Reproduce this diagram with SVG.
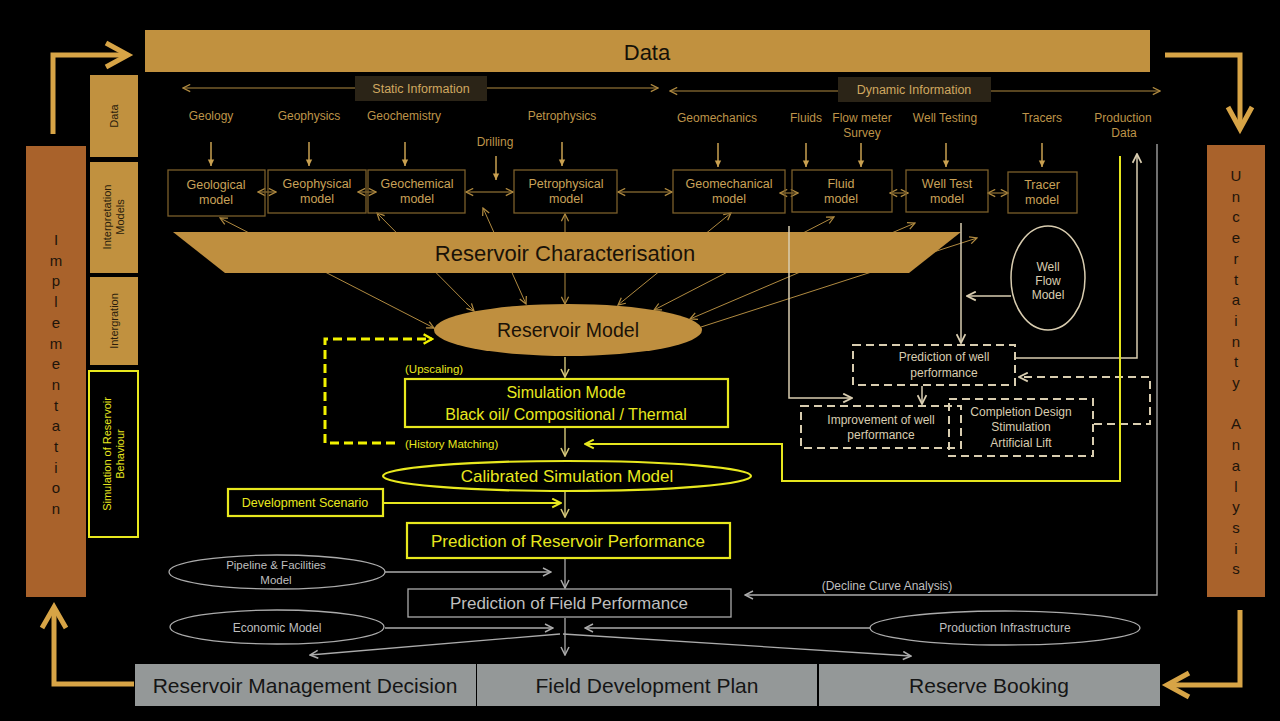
<svg xmlns="http://www.w3.org/2000/svg" width="1280" height="721" viewBox="0 0 1280 721">
<defs>
<style>
text{font-family:"Liberation Sans",Arial,sans-serif}
.lbl{font-size:12px;fill:#BE9449;text-anchor:middle}
.bt{font-size:12.5px;fill:#C9A258;text-anchor:middle}
.box{fill:none;stroke:#7A5E2A;stroke-width:1.3}
.gl{stroke:#B08A40;stroke-width:1;fill:none}
.gd{stroke:#C9A050;stroke-width:1.5;fill:none}
.wl{stroke:#D9CDB0;stroke-width:1.5;fill:none}
.wd{stroke:#D9CDB0;stroke-width:2;fill:none;stroke-dasharray:8,5}
.gy{stroke:#ABABAB;stroke-width:1.3;fill:none}
.yl{stroke:#E6E61E;stroke-width:2;fill:none}
.yb{fill:#000;stroke:#E8E81E;stroke-width:2.2}
.yt{fill:#E8E81E;text-anchor:middle}
.big{stroke:#D7A446;stroke-width:5;fill:none;stroke-linejoin:miter}
.wt{font-size:12px;fill:#D9CDB0;text-anchor:middle}
.gt{fill:#BFBFBF;text-anchor:middle}
.bar{fill:#A9622B}
.lt{font-size:15px;fill:#1E140A;text-anchor:middle}
.col{fill:#C1913F}
.ct{font-size:11px;fill:#2A1D0C;text-anchor:middle}
.bot{fill:#949898}
.bott{font-size:21px;fill:#151515;text-anchor:middle}
</style>
<marker id="ag" viewBox="0 0 10 10" refX="9" refY="5" markerWidth="9" markerHeight="9" markerUnits="userSpaceOnUse" orient="auto-start-reverse"><path d="M1,1 L9,5 L1,9" fill="none" stroke="#B08A40" stroke-width="1.4"/></marker>
<marker id="af" viewBox="0 0 10 10" refX="9" refY="5" markerWidth="8" markerHeight="8" markerUnits="userSpaceOnUse" orient="auto-start-reverse"><path d="M1,1 L9,5 L1,9 Z" fill="#C9A050"/></marker>
<marker id="aw" viewBox="0 0 10 10" refX="9" refY="5" markerWidth="11" markerHeight="11" markerUnits="userSpaceOnUse" orient="auto-start-reverse"><path d="M1,1 L9,5 L1,9" fill="none" stroke="#D9CDB0" stroke-width="1.6"/></marker>
<marker id="ay" viewBox="0 0 10 10" refX="9" refY="5" markerWidth="11" markerHeight="11" markerUnits="userSpaceOnUse" orient="auto-start-reverse"><path d="M1,1 L9,5 L1,9" fill="none" stroke="#E6E61E" stroke-width="1.8"/></marker>
<marker id="ayb" viewBox="0 0 10 10" refX="8" refY="5" markerWidth="12" markerHeight="12" markerUnits="userSpaceOnUse" orient="auto-start-reverse"><path d="M1,1 L8,5 L1,9" fill="none" stroke="#F2F200" stroke-width="2"/></marker>
<marker id="ays" viewBox="0 0 10 10" refX="9" refY="5" markerWidth="10" markerHeight="10" markerUnits="userSpaceOnUse" orient="auto-start-reverse"><path d="M1,1 L9,5 L1,9" fill="none" stroke="#D6C87A" stroke-width="1.6"/></marker>
<marker id="agy" viewBox="0 0 10 10" refX="9" refY="5" markerWidth="10" markerHeight="10" markerUnits="userSpaceOnUse" orient="auto-start-reverse"><path d="M1,1 L9,5 L1,9" fill="none" stroke="#ABABAB" stroke-width="1.5"/></marker>
</defs>
<rect width="1280" height="721" fill="#000"/>

<!-- connectors behind the trapezoid -->
<g id="connectors">
<g class="gl">
<line x1="434" y1="328" x2="220" y2="218" marker-start="url(#ag)" marker-end="url(#ag)"/>
<line x1="474" y1="311" x2="377" y2="213" marker-start="url(#ag)" marker-end="url(#ag)"/>
<line x1="526" y1="304" x2="483" y2="208" marker-start="url(#ag)" marker-end="url(#ag)"/>
<line x1="565" y1="304" x2="565" y2="214" marker-start="url(#ag)" marker-end="url(#ag)"/>
<line x1="618" y1="305" x2="731" y2="213" marker-start="url(#ag)" marker-end="url(#ag)"/>
<line x1="654" y1="310" x2="834" y2="217" marker-start="url(#ag)" marker-end="url(#ag)"/>
<line x1="690" y1="319" x2="915" y2="223" marker-start="url(#ag)" marker-end="url(#ag)"/>
<line x1="701" y1="327" x2="977" y2="238" marker-end="url(#ag)"/>
<line x1="183" y1="88" x2="658" y2="88" marker-start="url(#ag)" marker-end="url(#ag)"/>
<line x1="670" y1="91" x2="1160" y2="91" marker-start="url(#ag)" marker-end="url(#ag)"/>
<line x1="466" y1="192" x2="513" y2="192" marker-start="url(#ag)" marker-end="url(#ag)"/>
<line x1="618" y1="192" x2="672" y2="192" marker-start="url(#ag)" marker-end="url(#ag)"/>
<line x1="258" y1="192" x2="276" y2="192" marker-start="url(#ag)" marker-end="url(#ag)"/>
<line x1="358" y1="192" x2="376" y2="192" marker-start="url(#ag)" marker-end="url(#ag)"/>
<line x1="780" y1="193" x2="798" y2="193" marker-start="url(#ag)" marker-end="url(#ag)"/>
<line x1="890" y1="193" x2="908" y2="193" marker-start="url(#ag)" marker-end="url(#ag)"/>
<line x1="988" y1="193" x2="1008" y2="193" marker-start="url(#ag)" marker-end="url(#ag)"/>
</g>
<g class="gd">
<line x1="211" y1="142" x2="211" y2="166" marker-end="url(#af)"/>
<line x1="309" y1="142" x2="309" y2="166" marker-end="url(#af)"/>
<line x1="405" y1="142" x2="405" y2="166" marker-end="url(#af)"/>
<line x1="562" y1="142" x2="562" y2="166" marker-end="url(#af)"/>
<line x1="496" y1="156" x2="496" y2="180" marker-end="url(#af)"/>
<line x1="718" y1="143" x2="718" y2="167" marker-end="url(#af)"/>
<line x1="806" y1="143" x2="806" y2="167" marker-end="url(#af)"/>
<line x1="861" y1="143" x2="861" y2="167" marker-end="url(#af)"/>
<line x1="946" y1="143" x2="946" y2="167" marker-end="url(#af)"/>
<line x1="1042" y1="143" x2="1042" y2="167" marker-end="url(#af)"/>
</g>
</g>

<!-- frame bars -->
<g id="data-bar"><rect x="145" y="30" width="1005" height="42" class="col"/><text x="647" y="60" font-size="22" fill="#141008" text-anchor="middle">Data</text></g>
<g id="static-info"><rect x="355" y="76" width="132" height="25" fill="#2B2417"/><text x="421" y="93" font-size="12.5" fill="#D0A860" text-anchor="middle">Static Information</text></g>
<g id="dynamic-info"><rect x="838" y="77" width="153" height="25" fill="#2B2417"/><text x="914" y="94" font-size="12.5" fill="#D0A860" text-anchor="middle">Dynamic Information</text></g>

<g id="implementation"><rect x="26" y="146" width="60" height="451" class="bar"/>
<text class="lt"><tspan x="56" y="245">I</tspan><tspan x="56" y="265.7">m</tspan><tspan x="56" y="286.4">p</tspan><tspan x="56" y="307.1">l</tspan><tspan x="56" y="327.8">e</tspan><tspan x="56" y="348.5">m</tspan><tspan x="56" y="369.2">e</tspan><tspan x="56" y="389.9">n</tspan><tspan x="56" y="410.6">t</tspan><tspan x="56" y="431.3">a</tspan><tspan x="56" y="452">t</tspan><tspan x="56" y="472.7">i</tspan><tspan x="56" y="493.4">o</tspan><tspan x="56" y="514.1">n</tspan></text></g>
<g id="uncertainty"><rect x="1207" y="145" width="58" height="452" class="bar"/>
<text class="lt"><tspan x="1236" y="181">U</tspan><tspan x="1236" y="201.7">n</tspan><tspan x="1236" y="222.4">c</tspan><tspan x="1236" y="243.1">e</tspan><tspan x="1236" y="263.8">r</tspan><tspan x="1236" y="284.5">t</tspan><tspan x="1236" y="305.2">a</tspan><tspan x="1236" y="325.9">i</tspan><tspan x="1236" y="346.6">n</tspan><tspan x="1236" y="367.3">t</tspan><tspan x="1236" y="388">y</tspan><tspan x="1236" y="429.4">A</tspan><tspan x="1236" y="450.1">n</tspan><tspan x="1236" y="470.8">a</tspan><tspan x="1236" y="491.5">l</tspan><tspan x="1236" y="512.2">y</tspan><tspan x="1236" y="532.9">s</tspan><tspan x="1236" y="553.6">i</tspan><tspan x="1236" y="574.3">s</tspan></text></g>

<g id="frame-arrows" class="big">
<path d="M53,134 V55 H126"/><path d="M106,43 L128,55 L106,67"/>
<path d="M1165,55 H1240 V126"/><path d="M1228,107 L1240,129 L1252,107"/>
<path d="M1240,610 V685 H1170"/><path d="M1189,673 L1167,685 L1189,697"/>
<path d="M134,684 H54 V612"/><path d="M42,628 L54,607 L66,628"/>
</g>

<!-- left column -->
<g id="col-data"><rect x="90" y="75" width="48" height="82" class="col"/><text class="ct" transform="translate(118,116) rotate(-90)">Data</text></g>
<g id="col-interp"><rect x="90" y="162" width="48" height="111" class="col"/><text class="ct" transform="translate(114,217) rotate(-90)"><tspan x="0" y="-3">Interpretation</tspan><tspan x="0" y="10">Models</tspan></text></g>
<g id="col-integ"><rect x="90" y="277" width="48" height="88" class="col"/><text class="ct" transform="translate(118,321) rotate(-90)">Intergration</text></g>
<g id="col-sim"><rect x="89" y="371" width="49" height="166" fill="#000" stroke="#E8E81E" stroke-width="2"/><text font-size="11" fill="#E8E81E" text-anchor="middle" transform="translate(114,454) rotate(-90)"><tspan x="0" y="-3">Simulation of Reservoir</tspan><tspan x="0" y="10">Behaviour</tspan></text></g>

<!-- source labels -->
<g id="labels">
<text class="lbl" x="211" y="120">Geology</text>
<text class="lbl" x="309" y="120">Geophysics</text>
<text class="lbl" x="404" y="120">Geochemistry</text>
<text class="lbl" x="562" y="120">Petrophysics</text>
<text class="lbl" x="495" y="146">Drilling</text>
<text class="lbl" x="717" y="122">Geomechanics</text>
<text class="lbl" x="806" y="122">Fluids</text>
<text class="lbl" x="862" y="122">Flow meter</text>
<text class="lbl" x="862" y="137">Survey</text>
<text class="lbl" x="945" y="122">Well Testing</text>
<text class="lbl" x="1042" y="122">Tracers</text>
<text class="lbl" x="1123" y="122">Production</text>
<text class="lbl" x="1124" y="137">Data</text>
</g>

<!-- interpretation boxes -->
<g id="geological"><rect x="168" y="170" width="97" height="46" class="box"/><text class="bt" x="216" y="189">Geological</text><text class="bt" x="216" y="204">model</text></g>
<g id="geophysical"><rect x="268" y="170" width="98" height="43" class="box"/><text class="bt" x="317" y="188">Geophysical</text><text class="bt" x="317" y="203">model</text></g>
<g id="geochemical"><rect x="368" y="170" width="97" height="43" class="box"/><text class="bt" x="417" y="188">Geochemical</text><text class="bt" x="417" y="203">model</text></g>
<g id="petrophysical"><rect x="514" y="170" width="103" height="43" class="box"/><text class="bt" x="566" y="188">Petrophysical</text><text class="bt" x="566" y="203">model</text></g>
<g id="geomechanical"><rect x="673" y="170" width="112" height="43" class="box"/><text class="bt" x="729" y="188">Geomechanical</text><text class="bt" x="729" y="203">model</text></g>
<g id="fluid"><rect x="792" y="170" width="100" height="42" class="box"/><text class="bt" x="841" y="188">Fluid</text><text class="bt" x="841" y="203">model</text></g>
<g id="welltest"><rect x="906" y="170" width="82" height="42" class="box"/><text class="bt" x="947" y="188">Well Test</text><text class="bt" x="947" y="203">model</text></g>
<g id="tracer"><rect x="1008" y="172" width="69" height="41" class="box"/><text class="bt" x="1042" y="189">Tracer</text><text class="bt" x="1042" y="204">model</text></g>

<!-- reservoir characterisation -->
<g id="res-char"><polygon points="173,232 961,232 909,273 225,273" fill="#BF8F3F"/><text x="565" y="261" font-size="22" fill="#1A1208" text-anchor="middle">Reservoir Characterisation</text></g>
<g id="res-model"><ellipse cx="568" cy="330" rx="134" ry="26" fill="#BF8F3F"/><text x="568" y="337" font-size="19.5" fill="#1A1208" text-anchor="middle">Reservoir Model</text></g>

<!-- connectors over trapezoid -->
<g id="connectors-2">
<path class="wl" d="M789,226 V398 H852" marker-end="url(#aw)"/>
<line class="wl" x1="961" y1="223" x2="961" y2="343" marker-end="url(#aw)"/>
<line class="wl" x1="1011" y1="296" x2="967" y2="296" marker-end="url(#aw)"/>
<line class="wl" x1="922" y1="386" x2="922" y2="404" marker-end="url(#aw)"/>
<path class="wl" d="M1015,358 H1137 V154" marker-end="url(#aw)"/>
<path class="wd" d="M1094,424 H1150 V377 H1019" marker-end="url(#aw)"/>
<path class="yl" d="M1120,156 V481 H782 V444 H585" marker-end="url(#ay)"/>
<path class="gy" d="M1157,144 V595 H745" marker-end="url(#agy)"/>
<path d="M395,443 H325 V339 H432" fill="none" stroke="#F2F200" stroke-width="3" stroke-dasharray="9,5" marker-end="url(#ayb)"/>
<g stroke="#D6C87A" stroke-width="1.4" fill="none">
<line x1="565" y1="357" x2="565" y2="377" marker-end="url(#ays)"/>
<line x1="565" y1="428" x2="565" y2="456" marker-end="url(#ays)"/>
<line x1="565" y1="492" x2="565" y2="517" marker-end="url(#ays)"/>
</g>
<line class="yl" x1="383" y1="503" x2="561" y2="503" stroke-width="1.6" marker-end="url(#ay)"/>
<g class="gy">
<line x1="565" y1="559" x2="565" y2="588" marker-end="url(#agy)"/>
<line x1="565" y1="618" x2="565" y2="655" marker-end="url(#agy)"/>
<line x1="385" y1="572" x2="551" y2="572" marker-end="url(#agy)"/>
<line x1="385" y1="628" x2="553" y2="628" marker-end="url(#agy)"/>
<line x1="870" y1="628" x2="585" y2="628" marker-end="url(#agy)"/>
<line x1="560" y1="634" x2="310" y2="655" marker-end="url(#agy)"/>
<line x1="563" y1="634" x2="911" y2="656" marker-end="url(#agy)"/>
</g>
</g>

<!-- well side -->
<g id="wellflow"><ellipse cx="1048" cy="278" rx="37" ry="52" fill="none" stroke="#D9CDB0" stroke-width="1.5"/><text class="wt" font-size="11" x="1048" y="271">Well</text><text class="wt" font-size="11" x="1048" y="285">Flow</text><text class="wt" font-size="11" x="1048" y="299">Model</text></g>
<g id="pred-well"><rect x="853" y="345" width="162" height="40" class="wd"/><text class="wt" x="944" y="361">Prediction of well</text><text class="wt" x="944" y="377">performance</text></g>
<g id="improve"><rect x="801" y="406" width="160" height="42" class="wd"/><text class="wt" font-size="11.5" x="881" y="424">Improvement of well</text><text class="wt" font-size="11.5" x="881" y="439">performance</text></g>
<g id="completion"><rect x="949" y="399" width="144" height="57" class="wd"/><text class="wt" x="1021" y="416">Completion Design</text><text class="wt" x="1021" y="431">Stimulation</text><text class="wt" x="1021" y="447">Artificial Lift</text></g>

<!-- simulation chain -->
<text font-size="11.5" fill="#E8E81E" x="405" y="373">(Upscaling)</text>
<text font-size="11.5" fill="#E8E81E" x="405" y="448">(History Matching)</text>
<g id="sim-mode"><rect x="405" y="379" width="323" height="48" class="yb"/><text class="yt" font-size="16" x="566" y="398">Simulation  Mode</text><text class="yt" font-size="16" x="566" y="420">Black oil/ Compositional  / Thermal</text></g>
<g id="calibrated"><ellipse cx="567" cy="476" rx="184" ry="15" class="yb"/><text class="yt" font-size="17" x="567" y="482">Calibrated  Simulation  Model</text></g>
<g id="dev-scenario"><rect x="228" y="489" width="155" height="27" class="yb" stroke-width="1.8"/><text class="yt" font-size="12.5" x="305" y="507">Development  Scenario</text></g>
<g id="pred-res"><rect x="407" y="523" width="323" height="35" class="yb"/><text class="yt" font-size="17" x="568" y="547">Prediction  of Reservoir Performance</text></g>

<!-- field level -->
<g id="pipeline"><ellipse cx="277" cy="572" rx="108" ry="17" fill="none" stroke="#ABABAB" stroke-width="1.3"/><text class="gt" font-size="11.5" x="276" y="569">Pipeline &amp; Facilities</text><text class="gt" font-size="11.5" x="276" y="584">Model</text></g>
<g id="economic"><ellipse cx="277" cy="627" rx="107" ry="17" fill="none" stroke="#ABABAB" stroke-width="1.3"/><text class="gt" font-size="12" x="277" y="632">Economic Model</text></g>
<g id="prod-infra"><ellipse cx="1005" cy="628" rx="135" ry="17" fill="none" stroke="#ABABAB" stroke-width="1.3"/><text class="gt" font-size="12" x="1005" y="632">Production Infrastructure</text></g>
<g id="pred-field"><rect x="408" y="589" width="323" height="28" fill="none" stroke="#ABABAB" stroke-width="1.3"/><text class="gt" font-size="17" x="569" y="609">Prediction  of Field  Performance</text></g>
<text class="gt" font-size="12" x="887" y="590">(Decline Curve Analysis)</text>

<!-- bottom bar -->
<g id="rmd"><rect x="135" y="664" width="341" height="42" class="bot"/><text class="bott" x="305" y="693">Reservoir Management Decision</text></g>
<g id="fdp"><rect x="477" y="664" width="340" height="42" class="bot"/><text class="bott" x="647" y="693">Field Development Plan</text></g>
<g id="rb"><rect x="819" y="664" width="341" height="42" class="bot"/><text class="bott" x="989" y="693">Reserve Booking</text></g>
</svg>
